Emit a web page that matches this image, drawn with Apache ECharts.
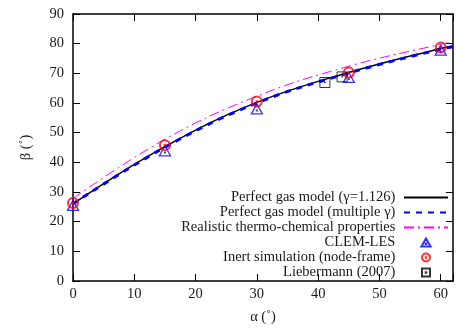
<!DOCTYPE html>
<html>
<head>
<meta charset="utf-8">
<script src="https://cdn.jsdelivr.net/npm/echarts@6/dist/echarts.min.js"></script>
<style>
  html, body { margin: 0; padding: 0; background: #fff; }
  #chart { width: 456px; height: 330px; }
</style>
</head>
<body>
<div id="chart"></div>
<script>
// Deflection angle beta versus inclination angle alpha (degrees)
const xTicks = [0, 10, 20, 30, 40, 50, 60];
const yTicks = [0, 10, 20, 30, 40, 50, 60, 70, 80, 90];

const seriesNames = [
  'Perfect gas model (\u03b3=1.126)',
  'Perfect gas model (multiple \u03b3)',
  'Realistic thermo-chemical properties',
  'CLEM-LES',
  'Inert simulation (node-frame)',
  'Liebermann (2007)'
];

// model curves: [alpha, beta]
const perfectGasSingle = [[0, 26.0], [15, 45.3], [30, 60.2], [45, 70.3], [60, 78.4], [62, 79.2]];
const perfectGasMulti  = [[0, 26.0], [15, 45.1], [30, 60.0], [45, 70.1], [60, 78.2], [62, 79.0]];
const realistic        = [[0, 27.8], [15, 47.8], [30, 62.3], [45, 72.4], [60, 79.8], [62, 80.6]];

// simulation / experiment points
const clemLes  = [[0, 25.5], [15, 43.9], [30, 58.0], [45, 68.6], [60, 77.8]];
const inertSim = [[0, 26.3], [15, 45.8], [30, 60.5], [45, 70.3], [60, 78.7]];
const lieber   = [[41.1, 66.9], [43.9, 68.8]];

const serif = '"Liberation Serif", "DejaVu Serif", serif';
const ink = '#1a1a1a';
const clear = 'rgba(0,0,0,0)';

// hollow markers with a centre dot
const triSym = 'path://M10,0L20,17.3L0,17.3Z M9.4,10.9L10.6,10.9L10.6,12.1L9.4,12.1Z';
const cirSym = 'path://M10,0A10,10 0 1,1 9.99,0Z M9.4,9.4L10.6,9.4L10.6,10.6L9.4,10.6Z';
const sqSym  = 'path://M0,0L20,0L20,20L0,20Z M9.4,9.4L10.6,9.4L10.6,10.6L9.4,10.6Z';

const chart = echarts.init(document.getElementById('chart'), null, { renderer: 'canvas' });

const axisCommon = {
  type: 'value',
  axisLine: { show: true, onZero: false, lineStyle: { color: '#000', width: 1.5 } },
  axisTick: { show: true, inside: true, length: 7, lineStyle: { color: '#000', width: 1 } },
  splitLine: { show: false },
  axisLabel: { color: ink, fontFamily: serif, fontSize: 14.5 }
};

chart.setOption({
  animation: false,
  backgroundColor: '#fff',
  grid: { left: 73, top: 14, right: -3.3, bottom: 44.3, containLabel: false },
  xAxis: [
    Object.assign({}, axisCommon, {
      position: 'bottom', min: 0, max: 62, interval: 10,
      axisLabel: Object.assign({}, axisCommon.axisLabel, {
        margin: 6,
        formatter: v => xTicks.includes(v) ? String(v) : ''
      }),
      name: '\u03b1 (\u02da)', nameLocation: 'middle', nameGap: 29,
      nameTextStyle: { color: ink, fontFamily: serif, fontSize: 14.5 }
    }),
    Object.assign({}, axisCommon, {
      position: 'top', min: 0, max: 62, interval: 10,
      axisLabel: { show: false }
    })
  ],
  yAxis: [
    Object.assign({}, axisCommon, {
      position: 'left', min: 0, max: 90, interval: 10,
      axisLabel: Object.assign({}, axisCommon.axisLabel, {
        margin: 9,
        formatter: v => yTicks.includes(v) ? String(v) : ''
      }),
      name: '\u03b2 (\u02da)', nameLocation: 'middle', nameGap: 39, nameRotate: 90,
      nameTextStyle: { color: ink, fontFamily: serif, fontSize: 14.5 }
    }),
    Object.assign({}, axisCommon, {
      position: 'right', min: 0, max: 90, interval: 10,
      axisLabel: { show: false }
    })
  ],
  legend: {
    orient: 'vertical',
    align: 'right',
    right: 7,
    top: 190,
    padding: 0,
    itemWidth: 44,
    itemHeight: 8,
    itemGap: 0,
    data: seriesNames,
    formatter: name => name + ' ',
    textStyle: { color: ink, fontFamily: serif, fontSize: 14.5, lineHeight: 14 }
  },
  series: [
    {
      name: seriesNames[0], type: 'line', data: perfectGasSingle,
      smooth: 0.4, symbol: 'none', z: 2,
      lineStyle: { color: '#000', width: 1.5, type: 'solid' },
      itemStyle: { color: clear, borderColor: clear, borderWidth: 0 }
    },
    {
      name: seriesNames[1], type: 'line', data: perfectGasMulti,
      smooth: 0.4, symbol: 'none', z: 3,
      lineStyle: { color: '#0000ff', width: 3, type: [6, 6] },
      itemStyle: { color: clear, borderColor: clear, borderWidth: 0 }
    },
    {
      name: seriesNames[2], type: 'line', data: realistic,
      smooth: 0.4, symbol: 'none', z: 3,
      lineStyle: { color: '#ff00ff', width: 1, type: [10, 4, 2, 4] },
      itemStyle: { color: clear, borderColor: clear, borderWidth: 0 }
    },
    {
      name: seriesNames[3], type: 'scatter', data: clemLes,
      symbol: triSym, symbolSize: [11, 10], z: 4,
      itemStyle: { color: clear, borderColor: '#0000ff', borderWidth: 1.3 }
    },
    {
      name: seriesNames[4], type: 'scatter', data: inertSim,
      symbol: cirSym, symbolSize: 10, z: 5,
      itemStyle: { color: clear, borderColor: '#ff0000', borderWidth: 2 }
    },
    {
      name: seriesNames[5], type: 'scatter', data: lieber,
      symbol: sqSym, symbolSize: 10, z: 4,
      itemStyle: { color: clear, borderColor: '#000', borderWidth: 1 }
    }
  ]
});
</script>
</body>
</html>
